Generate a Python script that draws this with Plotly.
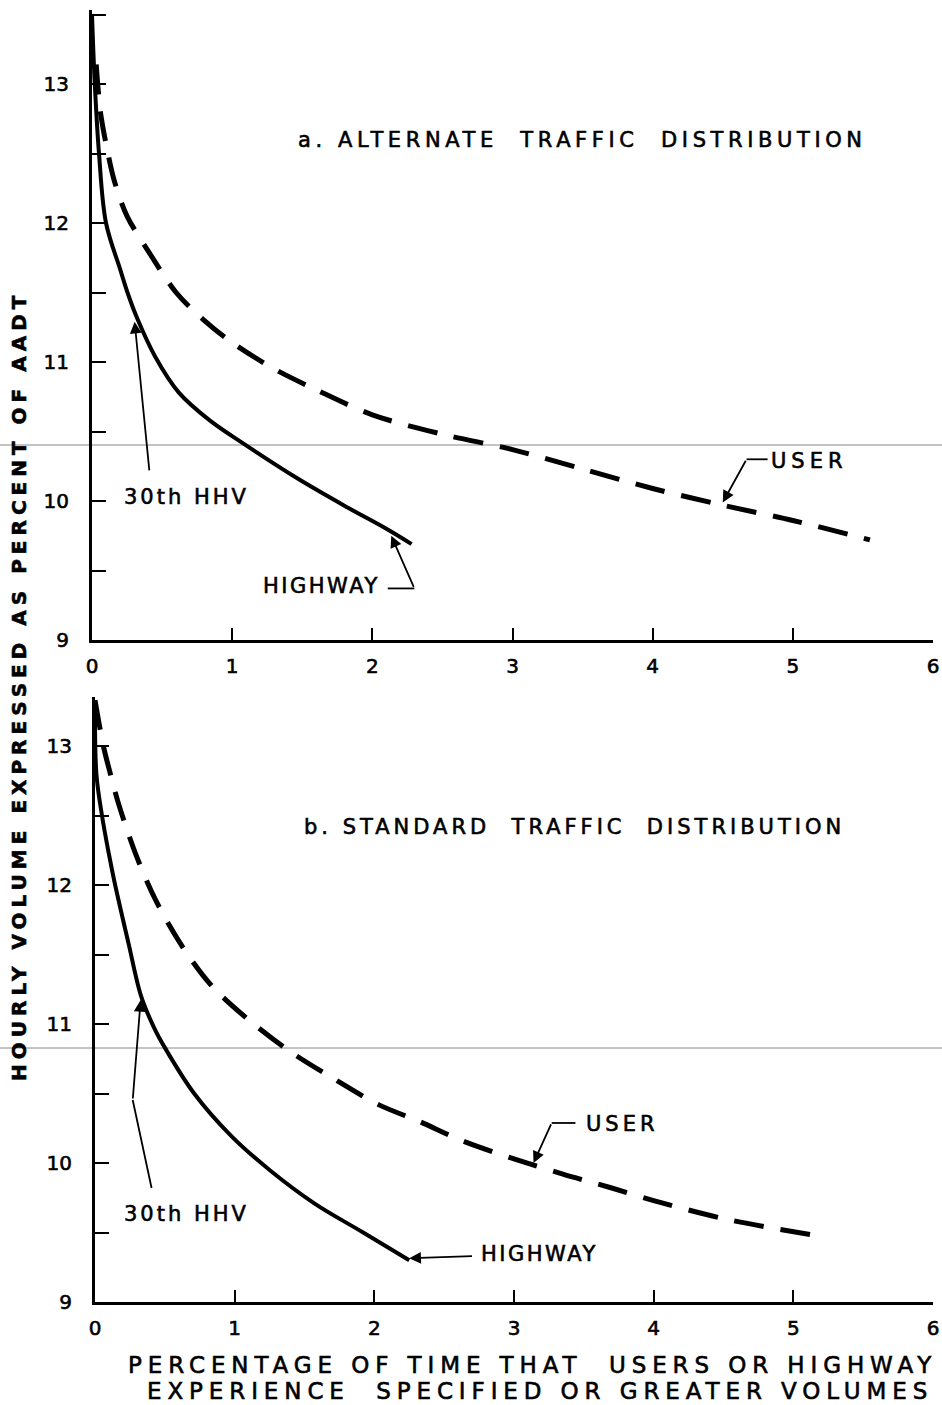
import plotly.graph_objects as go

# ---------------- data ----------------
# Panel a: alternate traffic distribution
a_highway_x = [0.0, 0.02, 0.05, 0.1, 0.2, 0.26, 0.32, 0.45, 0.62, 0.84, 1.07, 1.47, 1.83, 2.1, 2.28]
a_highway_y = [13.5, 13.0, 12.5, 12.0, 11.67, 11.48, 11.32, 11.04, 10.78, 10.58, 10.42, 10.16, 9.95, 9.8, 9.69]
a_user_x = [0.03, 0.06, 0.1, 0.16, 0.25, 0.4, 0.6, 0.8, 1.0, 1.3, 1.6, 2.0, 2.5, 3.0, 3.5, 4.0, 4.5, 5.0, 5.55]
a_user_y = [13.14, 12.8, 12.57, 12.3, 12.05, 11.8, 11.5, 11.3, 11.14, 10.95, 10.8, 10.62, 10.48, 10.37, 10.23, 10.09, 9.97, 9.86, 9.72]

# Panel b: standard traffic distribution
b_highway_x = [0.0, 0.01, 0.05, 0.1, 0.14, 0.24, 0.33, 0.42, 0.5, 0.71, 0.98, 1.25, 1.57, 1.92, 2.25]
b_highway_y = [13.33, 12.8, 12.5, 12.22, 12.02, 11.58, 11.2, 10.98, 10.83, 10.5, 10.19, 9.95, 9.71, 9.5, 9.3]
b_user_x = [0.0, 0.06, 0.11, 0.17, 0.3, 0.44, 0.63, 0.84, 1.1, 1.4, 1.72, 2.03, 2.32, 2.63, 3.0, 3.35, 3.7, 4.0, 4.5, 5.15]
b_user_y = [13.33, 13.0, 12.8, 12.58, 12.2, 11.88, 11.55, 11.27, 11.03, 10.8, 10.6, 10.42, 10.3, 10.16, 10.03, 9.92, 9.82, 9.73, 9.6, 9.48]

x_ticks = [0, 1, 2, 3, 4, 5, 6]
x_tick_labels = ["0", "1", "2", "3", "4", "5", "6"]
y_ticks = [9, 10, 11, 12, 13]
y_tick_labels = ["9", "10", "11", "12", "13"]

panel_titles = ["a. ALTERNATE  TRAFFIC  DISTRIBUTION", "b. STANDARD  TRAFFIC  DISTRIBUTION"]
y_title = "HOURLY VOLUME EXPRESSED AS PERCENT OF AADT"
x_title_1 = "PERCENTAGE OF TIME THAT  USERS OR HIGHWAY"
x_title_2 = "EXPERIENCE  SPECIFIED OR GREATER VOLUMES"

FONT = "DejaVu Sans"
INK = "stroke:black;stroke-width:0.6px"


def spaced(text, sp):
    return f'<span style="letter-spacing:{sp}px;{INK}">{text}</span>'


def inked(labels):
    return [f'<span style="{INK}">{t}</span>' for t in labels]


fig = go.Figure()

solid = dict(color="black", width=4, shape="spline", smoothing=1.0)
dashed = dict(color="black", width=5, dash="30px,17px", shape="spline", smoothing=0.9)

fig.add_trace(go.Scatter(x=a_highway_x, y=a_highway_y, mode="lines", line=solid,
                         xaxis="x", yaxis="y", showlegend=False, hoverinfo="skip"))
fig.add_trace(go.Scatter(x=a_user_x, y=a_user_y, mode="lines", line=dashed,
                         xaxis="x", yaxis="y", showlegend=False, hoverinfo="skip"))
fig.add_trace(go.Scatter(x=b_highway_x, y=b_highway_y, mode="lines", line=solid,
                         xaxis="x2", yaxis="y2", showlegend=False, hoverinfo="skip"))
fig.add_trace(go.Scatter(x=b_user_x, y=b_user_y, mode="lines", line=dashed,
                         xaxis="x2", yaxis="y2", showlegend=False, hoverinfo="skip"))

W, H = 942, 1405
ML, MR = 92, 9
PW = W - ML - MR


def xaxis_cfg(domain, anchor):
    return dict(domain=domain, anchor=anchor, range=[0, 6], tickvals=x_ticks, ticktext=inked(x_tick_labels),
                ticks="inside", ticklen=12, tickwidth=2, tickcolor="black",
                showline=True, linewidth=3, linecolor="black", showgrid=False, zeroline=False,
                tickfont=dict(family=FONT, size=20, color="black"), ticklabelstandoff=6,
                ticklabeloverflow="allow", automargin=False, fixedrange=True)


def yaxis_cfg(domain, anchor, rng):
    return dict(domain=domain, anchor=anchor, range=rng, tickvals=y_ticks, ticktext=inked(y_tick_labels),
                ticks="inside", ticklen=14, tickwidth=2, tickcolor="black",
                minor=dict(dtick=0.5, tick0=9, ticks="inside", ticklen=14, tickwidth=2, tickcolor="black"),
                showline=True, linewidth=3, linecolor="black", showgrid=False, zeroline=False,
                tickfont=dict(family=FONT, size=20, color="black"), ticklabelstandoff=16,
                ticklabeloverflow="allow", automargin=False, fixedrange=True)


fig.update_layout(
    width=W, height=H,
    margin=dict(l=ML, r=MR, t=0, b=0),
    paper_bgcolor="white", plot_bgcolor="white",
    xaxis=xaxis_cfg([0, 1], "y"),
    yaxis=yaxis_cfg([1 - 640 / H, 1 - 10 / H], "x", [9, 9 + 630 / 139]),
    xaxis2=xaxis_cfg([3 / PW, 1], "y2"),
    yaxis2=yaxis_cfg([1 - 1302 / H, 1 - 697 / H], "x2", [9, 9 + 605 / 139]),
)

ann = []
shapes = []


def text(x, y, s, size, xref, yref, sp=3, bold=False, angle=0):
    t = spaced(s, sp)
    if bold:
        t = "<b>" + t + "</b>"
    ann.append(dict(x=x, y=y, xref=xref, yref=yref, text=t, showarrow=False, textangle=angle,
                    font=dict(family=FONT, size=size, color="black"), xanchor="center", yanchor="middle"))


def arrow(x0, y0, x1, y1, xr, yr):
    ann.append(dict(x=x1, y=y1, ax=x0, ay=y0, xref=xr, yref=yr, axref=xr, ayref=yr, text="",
                    showarrow=True, arrowhead=2, arrowsize=1.3, arrowwidth=1.8, arrowcolor="black",
                    standoff=0, startstandoff=0))


def seg(x0, y0, x1, y1, xr, yr):
    shapes.append(dict(type="line", x0=x0, y0=y0, x1=x1, y1=y1, xref=xr, yref=yr,
                       line=dict(color="black", width=1.8)))


# Panel a labels
text(3.50, 12.60, panel_titles[0], 21, "x", "y", sp=4.6)
text(0.672, 10.03, "30th HHV", 21, "x", "y", sp=3)
arrow(0.41, 10.21, 0.304, 11.29, "x", "y")
text(1.635, 9.386, "HIGHWAY", 21, "x", "y", sp=2.5)
seg(2.11, 9.371, 2.30, 9.371, "x", "y")
arrow(2.30, 9.371, 2.135, 9.75, "x", "y")
text(5.12, 10.286, "USER", 21, "x", "y", sp=5)
seg(4.82, 10.3, 4.67, 10.3, "x", "y")
arrow(4.67, 10.3, 4.50, 9.99, "x", "y")

# Panel b labels
text(3.43, 12.417, panel_titles[1], 21, "x2", "y2", sp=4.0)
text(0.653, 9.633, "30th HHV", 21, "x2", "y2", sp=3)
seg(0.405, 9.82, 0.27, 10.453, "x2", "y2")
arrow(0.27, 10.453, 0.327, 11.173, "x2", "y2")
text(3.18, 9.345, "HIGHWAY", 21, "x2", "y2", sp=2.5)
arrow(2.71, 9.331, 2.25, 9.315, "x2", "y2")
text(3.78, 10.28, "USER", 21, "x2", "y2", sp=4)
seg(3.44, 10.288, 3.27, 10.288, "x2", "y2")
arrow(3.27, 10.288, 3.14, 10.0, "x2", "y2")

# Axis titles
text((19 - ML) / PW, 1 - 686 / H, y_title, 20, "paper", "paper", sp=5, bold=True, angle=-90)
text((532 - ML) / PW, 1 - 1365 / H, x_title_1, 23, "paper", "paper", sp=5.9)
text((540 - ML) / PW, 1 - 1391 / H, x_title_2, 23, "paper", "paper", sp=5.9)

# faint scan fold lines
for py in (445, 1048):
    shapes.append(dict(type="line", xref="paper", yref="paper", x0=-ML / PW, x1=1 + MR / PW,
                       y0=1 - py / H, y1=1 - py / H, line=dict(color="#888888", width=1), layer="below"))

fig.update_layout(annotations=ann, shapes=shapes)

fig.write_html(
    "out.html",
    config={"displayModeBar": False},
    post_script="document.body.style.margin='0';document.body.style.padding='0';"
                "document.documentElement.style.overflow='hidden';",
)
